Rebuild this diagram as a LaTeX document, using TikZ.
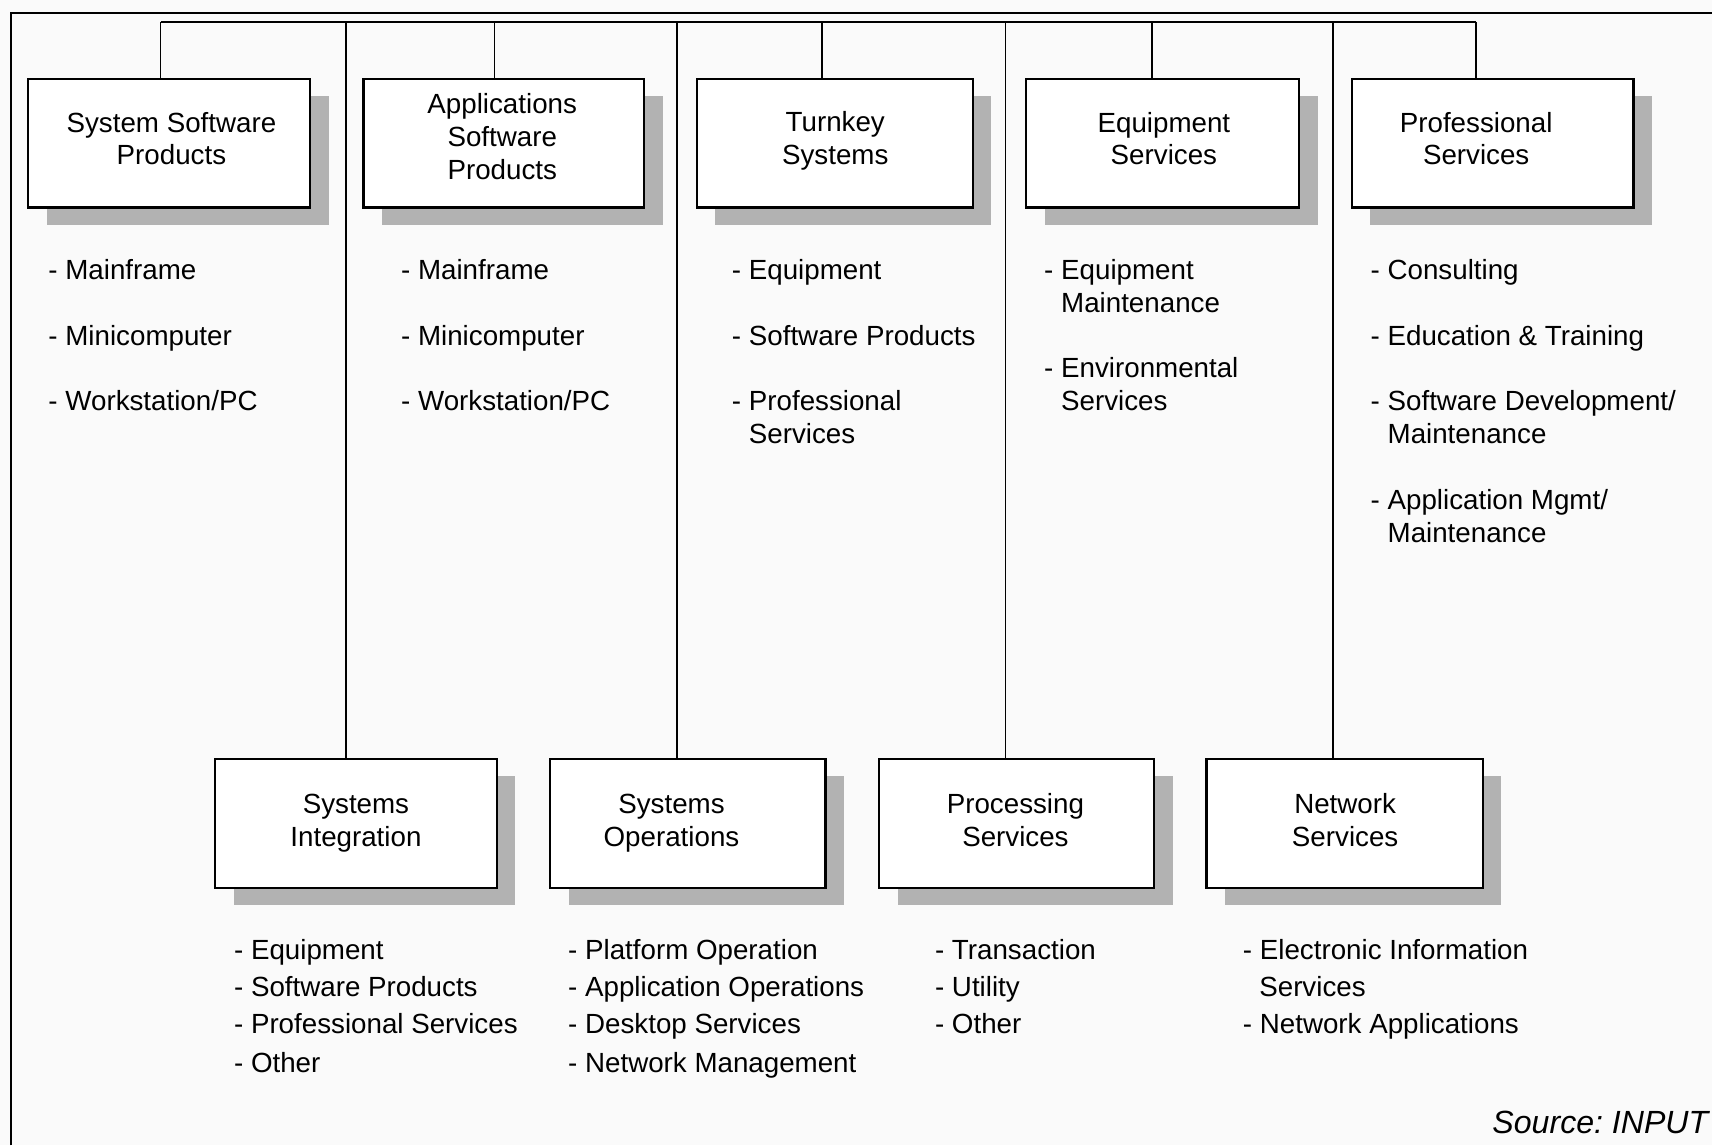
\documentclass[tikz,border=0pt]{standalone}
\usepackage{fontspec}
\setmainfont{Liberation Sans}
\usetikzlibrary{shadows}
\begin{document}
\frenchspacing
\begin{tikzpicture}[x=0.5pt,y=-0.5pt,
  cat/.style={draw=black, line width=1pt, fill=white, minimum width=#1, minimum height=59pt, inner sep=0pt,
     drop shadow={shadow xshift=8.5pt, shadow yshift=-8pt, fill=black!30, opacity=1}},
  lbl/.style={align=center, font=\fontsize{12.7}{15}\selectfont, inner sep=0pt},
  item/.style={anchor=base west, font=\fontsize{12.7}{15}\selectfont, inner sep=0pt, align=left},
  itemb/.style={anchor=base west, font=\fontsize{12.7}{17.25}\selectfont, inner sep=0pt, align=left},
  wire/.style={line width=0.7pt},
  frame/.style={line width=0.8pt}]
\fill[black!2] (0,0) rectangle (1568,1049);
\useasboundingbox (0,0) rectangle (1568,1049);
% frame
\coordinate (fl) at (10,1049);
\coordinate (ftl) at (10,12);
\coordinate (ftr) at (1568,12);
\draw[frame] (fl) -- (ftl) -- (ftr);
% bus
\coordinate (b1) at (147,20);
\coordinate (b2) at (317,20);
\coordinate (b3) at (453,20);
\coordinate (b4) at (620,20);
\coordinate (b5) at (753,20);
\coordinate (b6) at (921,20);
\coordinate (b7) at (1055,20);
\coordinate (b8) at (1221,20);
\coordinate (b9) at (1352,20);
\draw[wire] (b1) -- (b9);
% top boxes
\node[cat=129pt] (box1) at (155,131) {};
\node[cat=128.5pt] (box2) at (461.5,131) {};
\node[cat=126.5pt] (box3) at (764.5,131) {};
\node[cat=125pt] (box4) at (1065,131) {};
\node[cat=129pt] (box5) at (1367,131) {};
% bottom boxes
\node[cat=129pt] (box6) at (326,754) {};
\node[cat=126pt] (box7) at (630,754) {};
\node[cat=126pt] (box8) at (931,754) {};
\node[cat=126.5pt] (box9) at (1231.5,754) {};
% connectors
\draw[wire] (b1) -- (b1 |- box1.north);
\draw[wire] (b3) -- (b3 |- box2.north);
\draw[wire] (b5) -- (b5 |- box3.north);
\draw[wire] (b7) -- (b7 |- box4.north);
\draw[wire] (b9) -- (b9 |- box5.north);
\draw[wire] (b2) -- (b2 |- box6.north);
\draw[wire] (b4) -- (b4 |- box7.north);
\draw[wire] (b6) -- (b6 |- box8.north);
\draw[wire] (b8) -- (b8 |- box9.north);
% box labels
\node[lbl] (t1) at (157,127) {System Software\\Products};
\node[lbl] (t2) at (460,125) {Applications\\Software\\Products};
\node[lbl] (t3) at (765,129) {Turnkey\\Systems};
\node[lbl] (t4) at (1066,127) {Equipment\\Services};
\node[lbl] (t5) at (1352,127) {Professional\\Services};
\node[lbl] (t6) at (326,754) {Systems\\Integration};
\node[lbl] (t7) at (615,754) {Systems\\Operations};
\node[lbl] (t8) at (930,751) {Processing\\Services};
\node[lbl] (t9) at (1232,751) {Network\\Services};
% top lists
\node[item] (l1a) at (44,256) {- Mainframe};
\node[item] (l1b) at (44,316) {- Minicomputer};
\node[item] (l1c) at (44,376) {- Workstation/PC};
\node[item] (l2a) at (367,256) {- Mainframe};
\node[item] (l2b) at (367,316) {- Minicomputer};
\node[item] (l2c) at (367,376) {- Workstation/PC};
\node[item] (l3a) at (670,256) {- Equipment};
\node[item] (l3b) at (670,316) {- Software Products};
\node[item,anchor=north west] (l3c) at (670,357) {- Professional\\\phantom{- }Services};
\node[item,anchor=north west] (l4a) at (956,237) {- Equipment\\\phantom{- }Maintenance};
\node[item,anchor=north west] (l4b) at (956,327) {- Environmental\\\phantom{- }Services};
\node[item] (l5a) at (1255,256) {- Consulting};
\node[item] (l5b) at (1255,316) {- Education \& Training};
\node[item,anchor=north west] (l5c) at (1255,357) {- Software Development/\\\phantom{- }Maintenance};
\node[item,anchor=north west] (l5d) at (1255,448) {- Application Mgmt/\\\phantom{- }Maintenance};
% bottom lists
\node[itemb] (l6a) at (214,879) {- Equipment};
\node[itemb] (l6b) at (214,913) {- Software Products};
\node[itemb] (l6c) at (214,947) {- Professional Services};
\node[itemb] (l6d) at (214,982) {- Other};
\node[itemb] (l7a) at (520,879) {- Platform Operation};
\node[itemb] (l7b) at (520,913) {- Application Operations};
\node[itemb] (l7c) at (520,947) {- Desktop Services};
\node[itemb] (l7d) at (520,982) {- Network Management};
\node[itemb] (l8a) at (856,879) {- Transaction};
\node[itemb] (l8b) at (856,913) {- Utility};
\node[itemb] (l8c) at (856,947) {- Other};
\node[itemb] (l9a) at (1138,879) {- Electronic Information};
\node[itemb] (l9b) at (1153,913) {Services};
\node[itemb] (l9c) at (1138,947) {- Network Applications};
% source
\node[anchor=base east, inner sep=0pt, font=\fontsize{14.7}{17}\selectfont\itshape] (src) at (1565,1038) {Source: INPUT};
\end{tikzpicture}
\end{document}
